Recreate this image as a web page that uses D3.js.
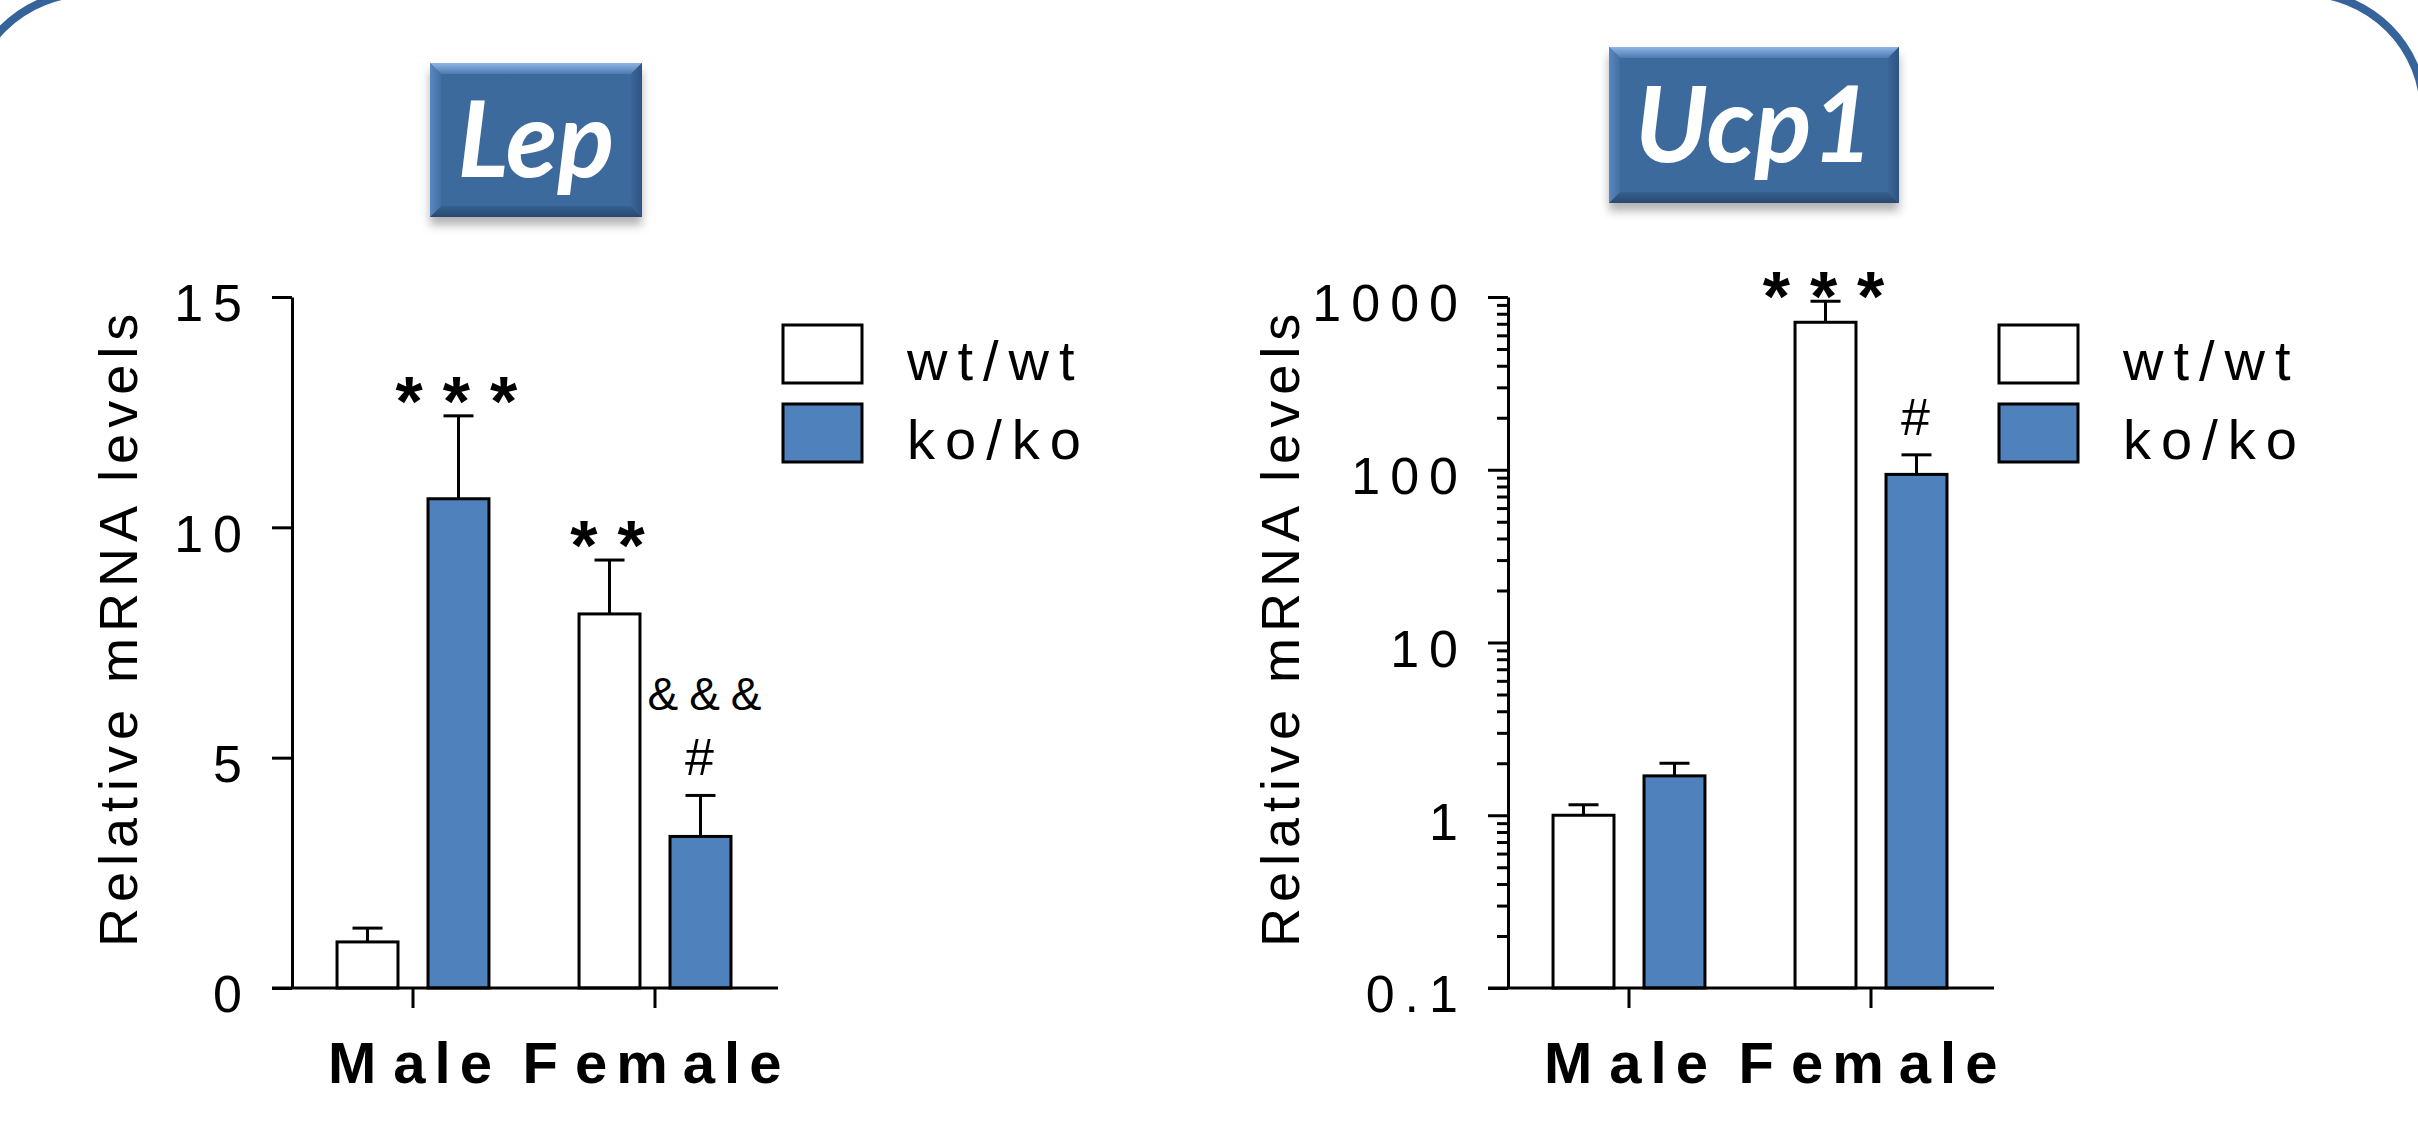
<!DOCTYPE html>
<html><head><meta charset="utf-8">
<script src="https://cdn.jsdelivr.net/npm/d3@7/dist/d3.min.js"></script>
<style>html,body{margin:0;padding:0;background:#fff;overflow:hidden} svg{display:block}</style>
</head><body>
<script>
// ---------------- data ----------------
const categories = ["Male", "Female"];
const genotypes = ["wt/wt", "ko/ko"];

const lepWt = [1.0, 8.12];
const lepWtErr = [0.30, 1.17];
const lepKo = [10.62, 3.29];
const lepKoErr = [1.80, 0.89];

const ucp1Wt = [1.0, 714];
const ucp1WtErr = [0.15, 231];
const ucp1Ko = [1.69, 94];
const ucp1KoErr = [0.31, 28];

const lepTicks = [0, 5, 10, 15];
const lepTickLabels = ["0", "5", "10", "15"];
const ucp1Ticks = [0.1, 1, 10, 100, 1000];
const ucp1TickLabels = ["0.1", "1", "10", "100", "1000"];

const lepMarks = [
  {cat: "Male", geno: "ko/ko", text: "***", kind: "star"},
  {cat: "Female", geno: "wt/wt", text: "**", kind: "star"},
  {cat: "Female", geno: "ko/ko", text: "&&&", kind: "amp"},
  {cat: "Female", geno: "ko/ko", text: "#", kind: "hash"}
];
const ucp1Marks = [
  {cat: "Female", geno: "wt/wt", text: "***", kind: "star"},
  {cat: "Female", geno: "ko/ko", text: "#", kind: "hash"}
];

// ---------------- setup ----------------
const W = 2418, H = 1136;
const FONT = "'Liberation Sans', Arial, Helvetica, sans-serif";
const BLUE = "#4f81bd";
const svg = d3.select("body").append("svg")
  .attr("width", W).attr("height", H).attr("viewBox", `0 0 ${W} ${H}`);
const defs = svg.append("defs");

const flt = defs.append("filter").attr("id", "shadow")
  .attr("x", "-20%").attr("y", "-20%").attr("width", "140%").attr("height", "170%");
flt.append("feDropShadow").attr("dx", 0).attr("dy", 8).attr("stdDeviation", 5)
  .attr("flood-color", "#000").attr("flood-opacity", 0.3);

function grad(id, x2, y2, stops) {
  const g = defs.append("linearGradient").attr("id", id)
    .attr("x1", 0).attr("y1", 0).attr("x2", x2).attr("y2", y2);
  stops.forEach(s => g.append("stop").attr("offset", s[0]).attr("stop-color", s[1]));
}
grad("bevTop", 0, 1, [[0, "#8fb5e3"], [1, "#4d7bb3"]]);
grad("bevBot", 0, 1, [[0, "#35608f"], [1, "#2a4870"]]);
grad("bevL", 1, 0, [[0, "#5a87bf"], [1, "#4270a4"]]);
grad("bevR", 1, 0, [[0, "#3b6698"], [1, "#2e5482"]]);

// frame
svg.append("rect")
  .attr("x", -32).attr("y", -7).attr("width", 2456).attr("height", 1300)
  .attr("rx", 120).attr("ry", 120)
  .attr("fill", "none").attr("stroke", "#36639a").attr("stroke-width", 8);

function titleBox(x, y, w, h, text) {
  const g = svg.append("g");
  g.append("rect").attr("x", x).attr("y", y).attr("width", w).attr("height", h)
    .attr("fill", "#3e6a9d").attr("filter", "url(#shadow)");
  const b = 11;
  const poly = (pts, fill) => g.append("polygon")
    .attr("points", pts.map(p => p.join(",")).join(" ")).attr("fill", fill);
  poly([[x, y], [x + w, y], [x + w - b, y + b], [x + b, y + b]], "url(#bevTop)");
  poly([[x, y + h], [x + w, y + h], [x + w - b, y + h - b], [x + b, y + h - b]], "url(#bevBot)");
  poly([[x, y], [x + b, y + b], [x + b, y + h - b], [x, y + h]], "url(#bevL)");
  poly([[x + w, y], [x + w - b, y + b], [x + w - b, y + h - b], [x + w, y + h]], "url(#bevR)");
  g.append("text").attr("x", x + w / 2).attr("y", y + h / 2 + 37)
    .attr("text-anchor", "middle")
    .attr("font-family", "Lato, 'Noto Sans', 'Open Sans', sans-serif")
    .attr("font-style", "italic").attr("font-weight", 700)
    .attr("font-size", 106).attr("fill", "#fff").text(text);
}

function drawChart(cfg) {
  const g = svg.append("g").attr("transform", `translate(${cfg.ox},0)`);
  const y = cfg.y;
  const base = y.range()[0];
  const x0 = d3.scaleBand().domain(categories).range([0, 484]).paddingInner(0).paddingOuter(0);
  const x1 = d3.scaleBand().domain(genotypes).range([0, x0.bandwidth()])
    .paddingInner(0.33).paddingOuter(0.495);
  const data = categories.flatMap((c, i) => [
    {cat: c, geno: "wt/wt", v: cfg.wt[i], e: cfg.wtErr[i]},
    {cat: c, geno: "ko/ko", v: cfg.ko[i], e: cfg.koErr[i]}
  ]);
  const fill = d => d.geno === "wt/wt" ? "#fff" : BLUE;
  const cx = d => x0(d.cat) + x1(d.geno) + x1.bandwidth() / 2;

  // error bars
  const eb = g.append("g").attr("stroke", "#000").attr("stroke-width", 3);
  eb.selectAll("line.v").data(data).join("line").attr("class", "v")
    .attr("x1", cx).attr("x2", cx)
    .attr("y1", d => y(d.v)).attr("y2", d => y(d.v + d.e));
  eb.selectAll("line.c").data(data).join("line").attr("class", "c")
    .attr("x1", d => cx(d) - 15).attr("x2", d => cx(d) + 15)
    .attr("y1", d => y(d.v + d.e)).attr("y2", d => y(d.v + d.e));

  // bars
  g.append("g").selectAll("rect").data(data).join("rect")
    .attr("x", d => x0(d.cat) + x1(d.geno))
    .attr("y", d => y(d.v))
    .attr("width", x1.bandwidth())
    .attr("height", d => base - y(d.v))
    .attr("fill", fill).attr("stroke", "#000").attr("stroke-width", 3);

  // y axis major
  const L = 10;
  const ya = g.append("g").call(d3.axisLeft(y).tickValues(cfg.ticks)
    .tickFormat((d, i) => cfg.labels[i]).tickSize(20).tickSizeOuter(0).tickPadding(30 - L));
  ya.attr("font-family", null).attr("font-size", null);
  ya.select(".domain").attr("stroke-width", 3);
  ya.selectAll(".tick line").attr("stroke-width", 3);
  ya.selectAll(".tick text").attr("font-family", FONT).attr("font-size", 52)
    .attr("letter-spacing", L).attr("dy", "0.46em").attr("fill", "#000");

  if (cfg.minor) {
    const mi = g.append("g").call(d3.axisLeft(y).tickValues(cfg.minor)
      .tickSize(11).tickFormat("").tickSizeOuter(0));
    mi.select(".domain").remove();
    mi.selectAll(".tick line").attr("stroke-width", 3);
  }

  // x axis
  g.append("line").attr("x1", -20).attr("x2", 486).attr("y1", base).attr("y2", base)
    .attr("stroke", "#000").attr("stroke-width", 3);
  const xa = g.append("g").attr("transform", `translate(0,${base})`)
    .call(d3.axisBottom(x0).tickSize(20).tickSizeOuter(0).tickFormat(""));
  xa.select(".domain").remove();
  xa.selectAll(".tick line").attr("stroke-width", 3);
  const XL = 9;
  const wide = {M: 8, F: 8, m: 6};
  g.append("g").selectAll("text").data(categories).join("text")
    .attr("x", d => x0(d) + x0.bandwidth() / 2 - 3 + XL / 2)
    .attr("y", base + 95)
    .attr("text-anchor", "middle").attr("font-family", FONT).attr("font-weight", 700)
    .attr("font-size", 58).attr("letter-spacing", XL)
    .each(function(d) {
      const t = d3.select(this);
      const chars = d.split("");
      chars.forEach((ch, i) => {
        const prev = i > 0 ? chars[i - 1] : null;
        t.append("tspan").attr("dx", prev && wide[prev] ? wide[prev] : 0).text(ch);
      });
    });

  // y title
  g.append("text").attr("transform", `translate(${cfg.titleX},947) rotate(-90)`)
    .attr("text-anchor", "start").attr("font-family", FONT).attr("font-size", 54)
    .attr("letter-spacing", 6).text("Relative mRNA levels");

  // legend
  const lg = g.append("g");
  genotypes.forEach((gt, i) => {
    const by = 325 + i * 79;
    lg.append("rect").attr("x", 491).attr("y", by).attr("width", 79).attr("height", 58)
      .attr("fill", gt === "wt/wt" ? "#fff" : BLUE).attr("stroke", "#000").attr("stroke-width", 3);
    lg.append("text").attr("x", 615).attr("y", by + 29 + 26)
      .attr("font-family", FONT).attr("font-size", 56).attr("letter-spacing", 10).text(gt);
  });

  // annotations
  const styles = {
    star: {size: 70, weight: 700, ls: 20, off: cfg.starOff, half: 33, dx: -2},
    hash: {size: 52, weight: 400, ls: 0, off: 38, half: 18, dx: -1},
    amp: {size: 46, weight: 400, ls: 11, off: 101, half: 16, dx: 4}
  };
  cfg.marks.forEach(m => {
    const d = data.find(q => q.cat === m.cat && q.geno === m.geno);
    const s = styles[m.kind];
    const top = y(d.v + d.e);
    g.append("text").attr("x", cx(d) + s.dx + s.ls / 2).attr("y", top - s.off + s.half)
      .attr("text-anchor", "middle").attr("font-family", FONT)
      .attr("font-weight", s.weight).attr("font-size", s.size)
      .attr("letter-spacing", s.ls).text(m.text);
  });
}

titleBox(430, 63, 212, 154, "Lep");
titleBox(1609, 47, 290, 156, "Ucp1");

drawChart({
  ox: 292,
  y: d3.scaleLinear().domain([0, 15]).range([988, 297]),
  ticks: lepTicks, labels: lepTickLabels, minor: null,
  wt: lepWt, wtErr: lepWtErr, ko: lepKo, koErr: lepKoErr,
  marks: lepMarks, starOff: 23, titleX: -155
});

const ucpMinor = [0.1, 1, 10, 100].flatMap(d => [2, 3, 4, 5, 6, 7, 8, 9].map(k => d * k));
drawChart({
  ox: 1508,
  y: d3.scaleLog().domain([0.1, 1000]).range([988, 297]),
  ticks: ucp1Ticks, labels: ucp1TickLabels, minor: ucpMinor,
  wt: ucp1Wt, wtErr: ucp1WtErr, ko: ucp1Ko, koErr: ucp1KoErr,
  marks: ucp1Marks, starOff: 13, titleX: -209
});
</script>
</body></html>
